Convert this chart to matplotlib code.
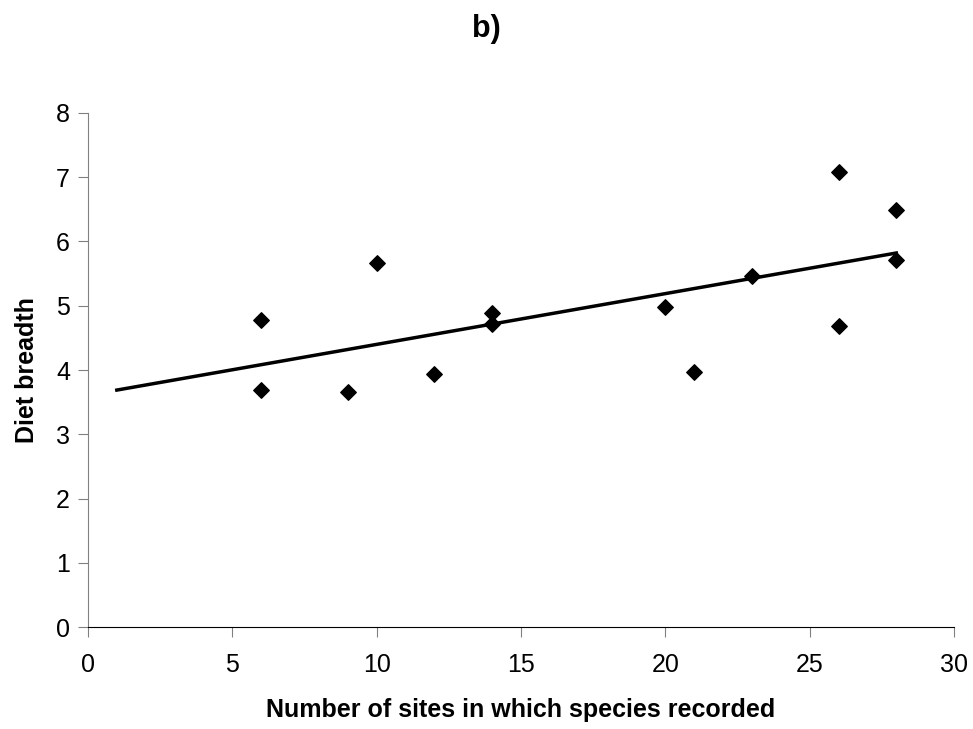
import numpy as np
import matplotlib.pyplot as plt

plt.rcParams['font.family'] = ['Liberation Sans', 'DejaVu Sans']

# number of sites in which species recorded vs diet breadth
sites = [6, 6, 9, 10, 12, 14, 14, 20, 21, 23, 26, 26, 28, 28]
diet_breadth = [4.78, 3.69, 3.66, 5.67, 3.94, 4.89, 4.72, 4.98, 3.97, 5.46, 7.08, 4.68, 6.49, 5.71]

# linear trend line from x=1 to x=28
slope, intercept = np.polyfit(sites, diet_breadth, 1)
x_line = np.array([1, 28])
y_line = slope * x_line + intercept

fig = plt.figure(figsize=(9.73, 7.29), dpi=100)
ax = fig.add_axes([0.0904, 0.1399, 0.8901, 0.7051])

ax.plot(x_line, y_line, color="black", linewidth=2.5, zorder=2)
ax.scatter(sites, diet_breadth, marker='D', s=62, color="black", zorder=3)

ax.set_xlim(0, 30)
ax.set_ylim(0, 8)
ax.set_xticks(range(0, 31, 5))
ax.set_yticks(range(0, 9, 1))

for side in ["top", "right"]:
    ax.spines[side].set_visible(False)
ax.spines["left"].set_color("#808080")
ax.spines["bottom"].set_color("black")
ax.tick_params(axis='x', direction='out', length=7, color='#808080', labelcolor='black', labelsize=18, pad=11.5)
ax.tick_params(axis='y', direction='out', length=7, color='#808080', labelcolor='black', labelsize=18, pad=6)

ax.set_xlabel("Number of sites in which species recorded", fontsize=18, fontweight='bold', labelpad=15)
ax.set_ylabel("Diet breadth", fontsize=18, fontweight='bold', labelpad=12)
fig.text(0.5, 0.960, "b)", fontsize=22, fontweight='bold', ha='center', va='center')

plt.savefig("out.png")
plt.close()
